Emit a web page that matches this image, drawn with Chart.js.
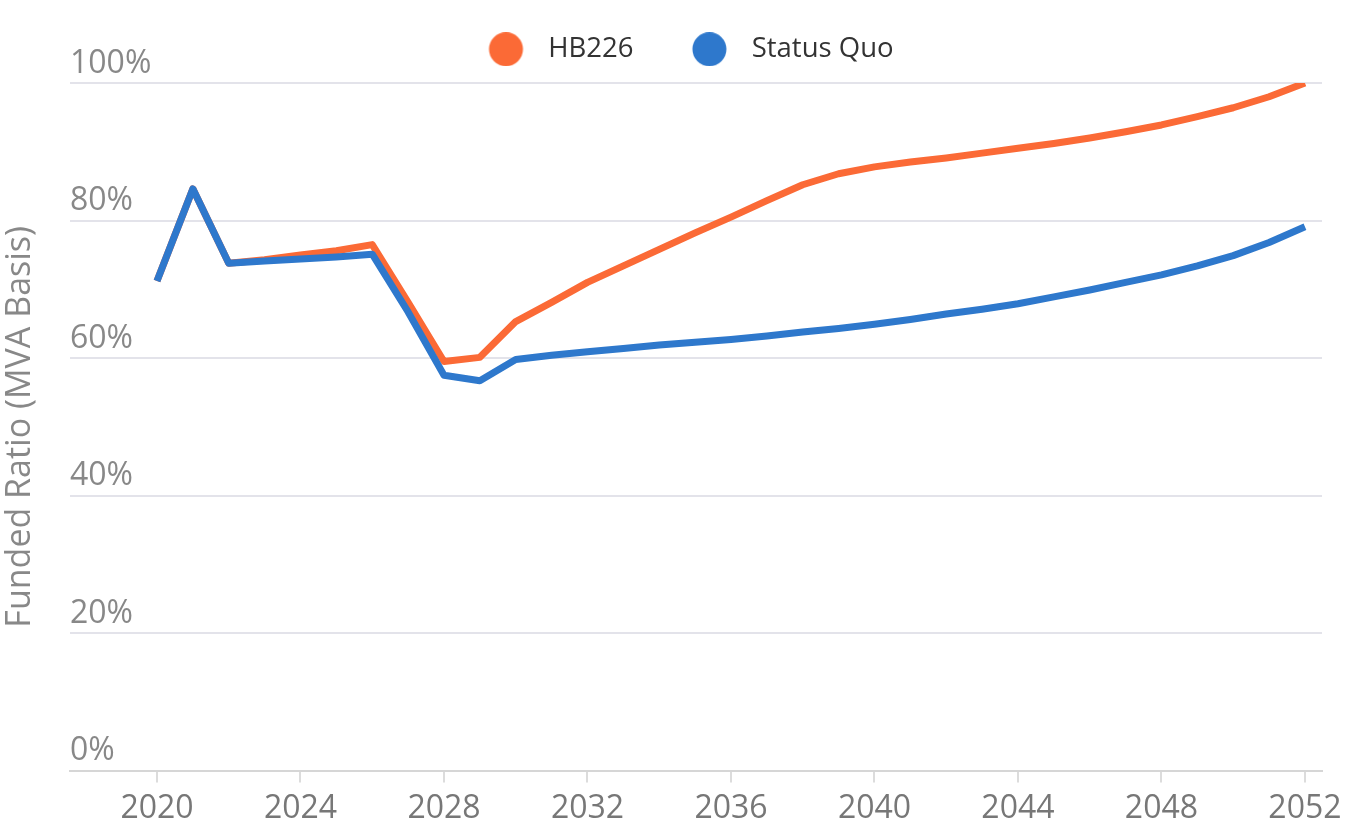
<!DOCTYPE html>
<html>
<head>
<meta charset="utf-8">
<script src="https://cdn.jsdelivr.net/npm/chart.js@4.4.0/dist/chart.umd.min.js"></script>
<style>
  html, body { margin: 0; padding: 0; background: #ffffff; }
  #wrap { width: 1364px; height: 840px; }
</style>
</head>
<body>
<div id="wrap"><canvas id="funded"></canvas></div>
<script>
const years = [2020, 2021, 2022, 2023, 2024, 2025, 2026, 2027, 2028, 2029, 2030,
    2031, 2032, 2033, 2034, 2035, 2036, 2037, 2038, 2039, 2040,
    2041, 2042, 2043, 2044, 2045, 2046, 2047, 2048, 2049, 2050, 2051, 2052];
const hb226 = [71.2, 84.6, 73.8, 74.3, 75.0, 75.6, 76.5, 68.1, 59.5, 60.1, 65.3,
    68.1, 71.0, 73.4, 75.8, 78.2, 80.5, 82.9, 85.2, 86.8, 87.8,
    88.5, 89.1, 89.8, 90.5, 91.2, 92.0, 92.9, 93.9, 95.1, 96.4, 98.0, 100.0];
const statusQuo = [71.2, 84.6, 73.8, 74.1, 74.4, 74.7, 75.1, 66.7, 57.5, 56.7, 59.8,
    60.4, 60.9, 61.4, 61.9, 62.3, 62.7, 63.2, 63.8, 64.3, 64.9,
    65.6, 66.4, 67.1, 67.9, 68.9, 69.9, 71.0, 72.1, 73.4, 74.9, 76.8, 79.1];
const xTicks = [2020, 2024, 2028, 2032, 2036, 2040, 2044, 2048, 2052];
const yTicks = [0, 20, 40, 60, 80, 100];

const ORANGE = '#fb6a36';
const BLUE = '#2e78cc';

Chart.defaults.font.family = "'Open Sans', sans-serif";

// legend dot on a wider canvas so the gap to the text matches
function legendDot(color) {
    const c = document.createElement('canvas');
    c.width = 80;
    c.height = 34;
    const g = c.getContext('2d');
    g.fillStyle = color;
    g.beginPath();
    g.arc(51.5, 17, 17, 0, Math.PI * 2);
    g.fill();
    return c;
}

function pairs(vals) {
    return years.map((yr, i) => ({x: yr, y: vals[i]}));
}

const data = {
    datasets: [{
        label: 'HB226',
        data: pairs(hb226),
        borderColor: ORANGE,
        backgroundColor: ORANGE,
        borderWidth: 7,
        borderJoinStyle: 'round',
        pointRadius: 0,
        tension: 0,
        order: 1,
        dot: legendDot(ORANGE),
    }, {
        label: 'Status Quo',
        data: pairs(statusQuo),
        borderColor: BLUE,
        backgroundColor: BLUE,
        borderWidth: 7,
        borderJoinStyle: 'round',
        pointRadius: 0,
        tension: 0,
        order: 0,
        dot: legendDot(BLUE),
    }]
};

const config = {
    type: 'line',
    data: data,
    options: {
        responsive: true,
        maintainAspectRatio: false,
        animation: false,
        layout: {
            padding: {top: 11, right: 42, bottom: 5, left: 26}
        },
        plugins: {
            legend: {
                position: 'top',
                labels: {
                    color: '#333333',
                    font: {size: 27.5},
                    usePointStyle: true,
                    pointStyleWidth: 80,
                    boxHeight: 27,
                    padding: 24.5,
                    sort: (a, b) => a.datasetIndex - b.datasetIndex,
                    generateLabels: function (chart) {
                        const items = Chart.defaults.plugins.legend.labels.generateLabels(chart);
                        items.forEach(it => {
                            it.pointStyle = chart.data.datasets[it.datasetIndex].dot;
                        });
                        return items;
                    }
                }
            },
            // empty title used only as a spacer between legend and plot
            title: {
                display: true,
                text: '',
                weight: 500,
                padding: 0,
                font: {size: 10, lineHeight: 1.0}
            },
            tooltip: {enabled: false}
        },
        scales: {
            x: {
                type: 'linear',
                min: 2017.575,
                max: 2052.475,
                afterBuildTicks: function (scale) {
                    scale.ticks = xTicks.map(v => ({value: v}));
                },
                ticks: {
                    color: '#777777',
                    font: {size: 32},
                    padding: 7,
                    maxRotation: 0,
                    callback: v => String(v)
                },
                grid: {
                    drawOnChartArea: false,
                    drawTicks: true,
                    tickLength: 12,
                    color: '#dcdcdc',
                    lineWidth: 2
                },
                border: {
                    display: true,
                    color: '#d6d6d6',
                    width: 2
                }
            },
            y: {
                min: 0,
                max: 100,
                afterBuildTicks: function (scale) {
                    scale.ticks = yTicks.map(v => ({value: v}));
                },
                ticks: {
                    color: '#888888',
                    font: {size: 32},
                    mirror: true,
                    padding: 0,
                    labelOffset: -19.5,
                    callback: v => v + '%'
                },
                grid: {
                    color: '#e3e3ea',
                    lineWidth: 2,
                    drawTicks: false
                },
                border: {display: false},
                title: {
                    display: true,
                    text: 'Funded Ratio (MVA Basis)',
                    color: '#888888',
                    font: {size: 34, lineHeight: 1.2},
                    padding: {top: -26.4, bottom: 29.6}
                }
            }
        }
    }
};

window.addEventListener('load', function () {
    new Chart(document.getElementById('funded'), config);
});
</script>
</body>
</html>
